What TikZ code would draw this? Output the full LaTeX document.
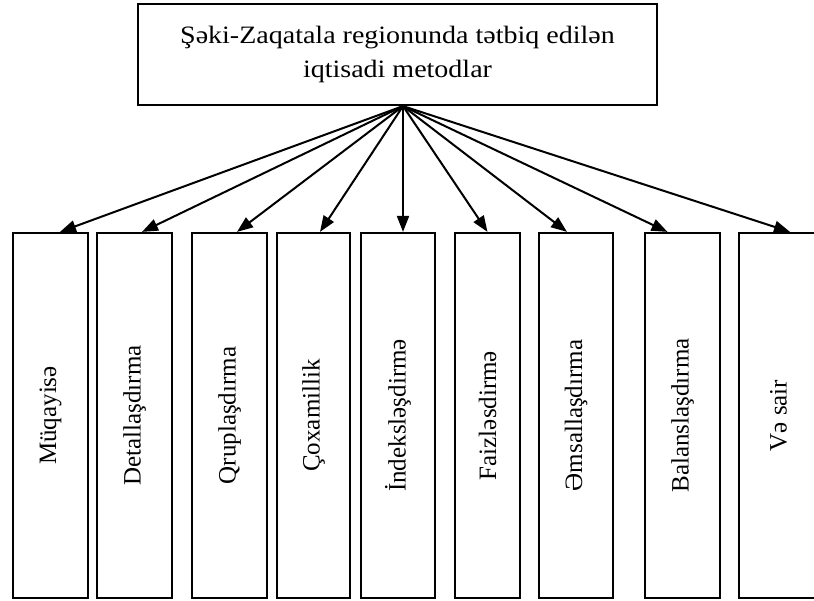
\documentclass[tikz,border=0pt]{standalone}
\usepackage{fontspec}
\setmainfont{Liberation Serif}
\newfontfamily\widefont{Liberation Serif}[FakeStretch=1.12]
\usetikzlibrary{arrows.meta}

\begin{document}
\begin{tikzpicture}[x=1pt,y=-1pt,
  headbox/.style={draw,line width=2.2pt,minimum width=519pt,minimum height=101pt,align=center,font=\widefont\fontsize{25}{34}\selectfont},
  methodbox/.style={draw,line width=2.2pt,rotate=90,minimum width=365pt,inner sep=0pt,font=\fontsize{25}{30}\selectfont},
  arrowline/.style={line width=2pt,-{Triangle[length=16pt,width=12pt]}}]%
\useasboundingbox (0,0) rectangle (814,601);%
\node[headbox] (head) at (397.5,54.5) {Şəki-Zaqatala regionunda tətbiq edilən\\iqtisadi metodlar};%
\node[methodbox,minimum height=75pt] (m1) at (50.5,415.5) {Müqayisə};%
\node[methodbox,minimum height=75pt] (m2) at (134.5,415.5) {Detallaşdırma};%
\node[methodbox,minimum height=75pt] (m3) at (229.5,415.5) {Qruplaşdırma};%
\node[methodbox,minimum height=73pt] (m4) at (313.5,415.5) {Çoxamillik};%
\node[methodbox,minimum height=74pt] (m5) at (398,415.5) {İndeksləşdirmə};%
\node[methodbox,minimum height=65pt] (m6) at (487.5,415.5) {Faizləsdirmə};%
\node[methodbox,minimum height=74pt] (m7) at (576,415.5) {Əmsallaşdırma};%
\node[methodbox,minimum height=75pt] (m8) at (682.5,415.5) {Balanslaşdırma};%
\node[methodbox,minimum height=79pt] (m9) at (778.5,415.5) {Və sair};%
\coordinate (hub) at ([xshift=5.5pt]head.south);%
\draw[arrowline] (hub) -- ([xshift=9.5pt]m1.east);%
\draw[arrowline] (hub) -- ([xshift=7.5pt]m2.east);%
\draw[arrowline] (hub) -- ([xshift=7.5pt]m3.east);%
\draw[arrowline] (hub) -- ([xshift=6.5pt]m4.east);%
\draw[arrowline] (hub) -- ([xshift=5pt]m5.east);%
\draw[arrowline] (hub) -- (m6.east);%
\draw[arrowline] (hub) -- ([xshift=-9pt]m7.east);%
\draw[arrowline] (hub) -- ([xshift=-15pt]m8.east);%
\draw[arrowline] (hub) -- ([xshift=11.5pt]m9.east);%
\end{tikzpicture}
\end{document}
